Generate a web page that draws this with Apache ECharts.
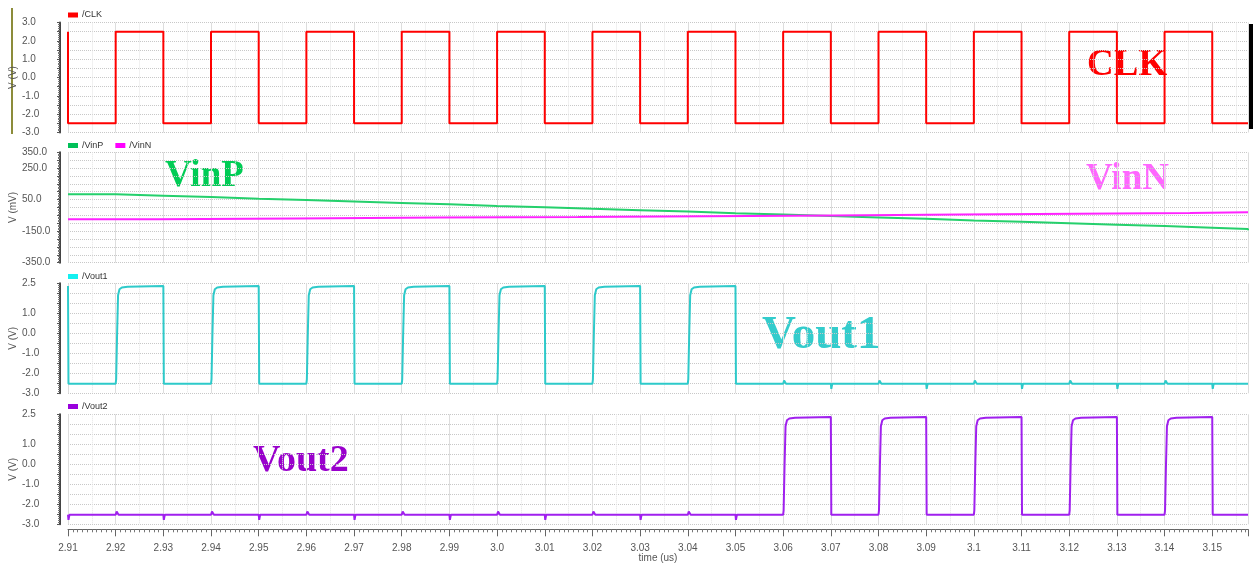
<!DOCTYPE html>
<html><head><meta charset="utf-8">
<script src="https://cdn.jsdelivr.net/npm/echarts@6/dist/echarts.min.js"></script>
<style>html,body{margin:0;padding:0;background:#fff}#c{width:1254px;height:564px}</style>
</head><body><div id="c"></div>
<script>
// ---- data ----
const xMin = 2.91, xMax = 3.1575;

const clkRise = [2.92,2.94,2.96,2.98,3.00,3.02,3.04,3.06,3.08,3.10,3.12,3.14];
const clkFall = [2.91,2.93,2.95,2.97,2.99,3.01,3.03,3.05,3.07,3.09,3.11,3.13,3.15];
const clkHigh = 2.5, clkLow = -2.5;

const vinPTimes  = [2.91,2.92,2.93,2.94,2.95,2.96,2.97,2.98,2.99,3.00,3.01,3.02,3.03,3.04,3.05,3.06,3.07,3.08,3.09,3.10,3.11,3.12,3.13,3.14,3.15,3.1575];
const vinPValues = [84,75,66,56,47,38,29,20,10,1,-8,-17,-26,-36,-45,-54,-63,-72,-82,-91,-100,-109,-118,-128,-137,-144];
const vinNTimes  = [2.91,2.929,2.958,2.988,3.017,3.044,3.0705,3.097,3.1217,3.1453,3.1575];
const vinNValues = [-74,-69,-64,-60,-55,-50,-45,-40,-35,-30,-30];

const vout1Rise = [2.92,2.94,2.96,2.98,3.00,3.02,3.04];
const vout1Fall = [2.91,2.93,2.95,2.97,2.99,3.01,3.03,3.05];
const vout1BlipUp = [3.06,3.08,3.10,3.12,3.14];
const vout1BlipDown = [3.07,3.09,3.11,3.13,3.15];

const vout2Rise = [3.06,3.08,3.10,3.12,3.14];
const vout2Fall = [3.07,3.09,3.11,3.13,3.15];
const vout2BlipUp = [2.92,2.94,2.96,2.98,3.00,3.02,3.04];
const vout2BlipDown = [2.91,2.93,2.95,2.97,2.99,3.01,3.03,3.05];

const outTop = 2.36, outLow = -2.52, blipUpV = -2.36, blipDownV = -2.78;
// rising edge shape: [time after edge (us), volts]
const riseShape = [[0,-2.52],[0.0001,-2.3],[0.0003,0.0],[0.0005,1.9],[0.0008,2.2],[0.0013,2.29],[0.0025,2.33]];
const blipUpShape = [[0,-2.52],[0.0002,blipUpV],[0.0006,-2.52]];
const blipDownShape = [[0,-2.52],[0.0001,blipDownV],[0.0003,-2.52]];

// ---- build waveforms from the edge lists ----
function buildClk(){
  const ev = [];
  clkRise.forEach(t=>ev.push([t,'r']));
  clkFall.forEach(t=>ev.push([t,'f']));
  ev.sort((a,b)=>a[0]-b[0]);
  const pts = [[xMin, clkHigh]];
  ev.forEach(([t,k])=>{
    if(k==='r'){pts.push([t,clkLow],[t,clkHigh]);}
    else {pts.push([t,clkHigh],[t,clkLow]);}
  });
  pts.push([xMax, clkLow]);
  return pts;
}
function buildOut(startV, rises, falls, ups, downs){
  const ev = [];
  rises.forEach(t=>ev.push([t,'r']));
  falls.forEach(t=>ev.push([t,'f']));
  ups.forEach(t=>ev.push([t,'u']));
  downs.forEach(t=>ev.push([t,'d']));
  ev.sort((a,b)=>a[0]-b[0]);
  const pts = [[xMin, startV]];
  let high = startV > 0;
  ev.forEach(([t,k])=>{
    if(k==='r'){riseShape.forEach(([dt,v])=>pts.push([t+dt,v])); high=true;}
    else if(k==='f'){
      if(high){pts.push([t,outTop],[t+0.0001,outLow]);}
      high=false;
    }
    else if(k==='u'){blipUpShape.forEach(([dt,v])=>pts.push([t+dt,v]));}
    else {blipDownShape.forEach(([dt,v])=>pts.push([t+dt,v]));}
  });
  pts.push([xMax, outLow]);
  return pts;
}
const clkData = buildClk();
const vinPData = vinPTimes.map((t,i)=>[t, vinPValues[i]]);
const vinNData = vinNTimes.map((t,i)=>[t, vinNValues[i]]);
const vout1Data = buildOut(outTop, vout1Rise, vout1Fall, vout1BlipUp, vout1BlipDown);
const vout2Data = buildOut(outLow, vout2Rise, vout2Fall, vout2BlipUp, vout2BlipDown);

// ---- chart ----
const chart = echarts.init(document.getElementById('c'), null, {renderer:'canvas'});
const FONT = 'Liberation Sans, Arial, sans-serif';
const gridL = 68, gridW = 1180;
const gBase = {left:gridL, width:gridW, containLabel:false, outerBoundsMode:'none'};
const grids = [
  Object.assign({top:22.5, height:110}, gBase),
  Object.assign({top:152.3, height:110.4}, gBase),
  Object.assign({top:283.3, height:110}, gBase),
  Object.assign({top:414.3, height:110}, gBase)
];
function gridX(i, extra){
  return Object.assign({
    gridIndex:i, type:'value', min:xMin, max:xMax, interval:0.01,
    axisLine:{show:false, onZero:false}, axisTick:{show:false}, axisLabel:{show:false},
    splitLine:{show:true, lineStyle:{color:'#dddddd', width:1}},
    minorTick:{show:false, splitNumber:2},
    minorSplitLine:{show:true, lineStyle:{color:'#e4e4e4', width:1, type:'dotted'}}
  }, extra||{});
}
function fmtX(v){ let s = String(+(+v).toFixed(2)); if(s.indexOf('.')<0) s += '.0'; return s; }
const xAxes = [
  gridX(0), gridX(1), gridX(2),
  {
    gridIndex:3, type:'value', min:xMin, max:xMax, interval:0.01, position:'bottom', offset:5,
    axisLine:{show:true, onZero:false, lineStyle:{color:'#666', width:1}},
    axisTick:{show:true, length:7, lineStyle:{color:'#666'}},
    minorTick:{show:true, splitNumber:10, length:3, lineStyle:{color:'#777'}},
    axisLabel:{show:true, fontSize:10, color:'#555', fontFamily:FONT, margin:14, formatter:fmtX,
      showMaxLabel:false, showMinLabel:true},
    splitLine:{show:false},
    name:'time (us)', nameLocation:'middle', nameGap:24, nameMoveOverlap:false,
    nameTextStyle:{fontSize:10, color:'#555', fontFamily:FONT}
  },
  gridX(3, {position:'top'})
];
function yAx(i, min, max, interval, shown, name){
  return {
    gridIndex:i, type:'value', min:min, max:max, interval:interval, offset:8,
    axisLine:{show:true, onZero:false, lineStyle:{color:'#444', width:2}},
    axisTick:{show:true, length:3, lineStyle:{color:'#555'}},
    minorTick:{show:true, splitNumber:5, length:2, lineStyle:{color:'#777'}},
    axisLabel:{fontSize:10, color:'#555', fontFamily:FONT, align:'left', margin:38,
      showMinLabel:true, showMaxLabel:true, hideOverlap:false,
      formatter:function(v){ return shown.some(s=>Math.abs(s-v)<1e-9) ? (+v).toFixed(1) : ''; }},
    splitLine:{show:true, lineStyle:{color:'#c8c8c8', width:1, type:'dotted'}},
    name:name, nameLocation:'middle', nameGap:42, nameRotate:90, nameMoveOverlap:false,
    nameTextStyle:{fontSize:10, color:'#555', fontFamily:FONT}
  };
}
const clkLabels = [3,2,1,0,-1,-2,-3];
const vinLabels = [350,250,50,-150,-350];
const outLabels = [2.5,1,0,-1,-2,-3];
const yAxes = [
  yAx(0,-3,3,0.5,clkLabels,'V (V)'),
  yAx(1,-350,350,50,vinLabels,'V (mV)'),
  yAx(2,-3,2.5,0.5,outLabels,'V (V)'),
  yAx(3,-3,2.5,0.5,outLabels,'V (V)')
];
function legendAt(top, names){
  return {data:names, left:gridL, top:top, icon:'rect', itemWidth:10, itemHeight:5, itemGap:12,
    selectedMode:false, textStyle:{fontSize:9, color:'#333', fontFamily:FONT, padding:[0,0,0,-1]}, padding:0};
}
function ser(name, data, xi, yi, lineColor, itemColor, step){
  return {name:name, type:'line', data:data, xAxisIndex:xi, yAxisIndex:yi, showSymbol:false, symbol:'none',
    step:step||false, animation:false, sampling:null, clip:true,
    lineStyle:{color:lineColor, width:2}, itemStyle:{color:itemColor}, emphasis:{disabled:true}};
}
const ann = (text, x, y, color, size)=>({type:'text', x:x, y:y, silent:true,
  style:{text:text, fill:color, font:'bold '+size+'px "Liberation Serif", "Times New Roman", serif', textAlign:'left', textVerticalAlign:'middle'}});

chart.setOption({
  backgroundColor:'#ffffff',
  animation:false,
  grid:grids,
  xAxis:xAxes,
  yAxis:yAxes,
  legend:[
    legendAt(10.5,['/CLK']),
    legendAt(141,['/VinP','/VinN']),
    legendAt(272,['/Vout1']),
    legendAt(402,['/Vout2'])
  ],
  series:[
    ser('/CLK', clkData, 0, 0, '#ff0000', '#ff0000'),
    ser('/VinP', vinPData, 1, 1, '#25d06c', '#00c058', 'end'),
    ser('/VinN', vinNData, 1, 1, '#ff22ff', '#ff00ff', 'end'),
    ser('/Vout1', vout1Data, 2, 2, '#2ecaca', '#14f0f0'),
    ser('/Vout2', vout2Data, 4, 3, '#a020ee', '#9900dd')
  ],
  graphic:[
    {type:'line', silent:true, shape:{x1:12,y1:8,x2:12,y2:134}, style:{stroke:'#8c8c3a', lineWidth:2}},
    {type:'line', silent:true, shape:{x1:1251,y1:24,x2:1251,y2:129}, style:{stroke:'#000000', lineWidth:4}},
    ann('CLK', 1087, 65, '#ff0000', 37),
    ann('VinP', 165, 176, '#00cc55', 37),
    ann('VinN', 1086, 179, '#ff66ff', 37),
    ann('Vout1', 762, 336, '#33cccc', 47),
    ann('Vout2', 253, 461, '#9900cc', 38)
  ]
});
</script></body></html>
